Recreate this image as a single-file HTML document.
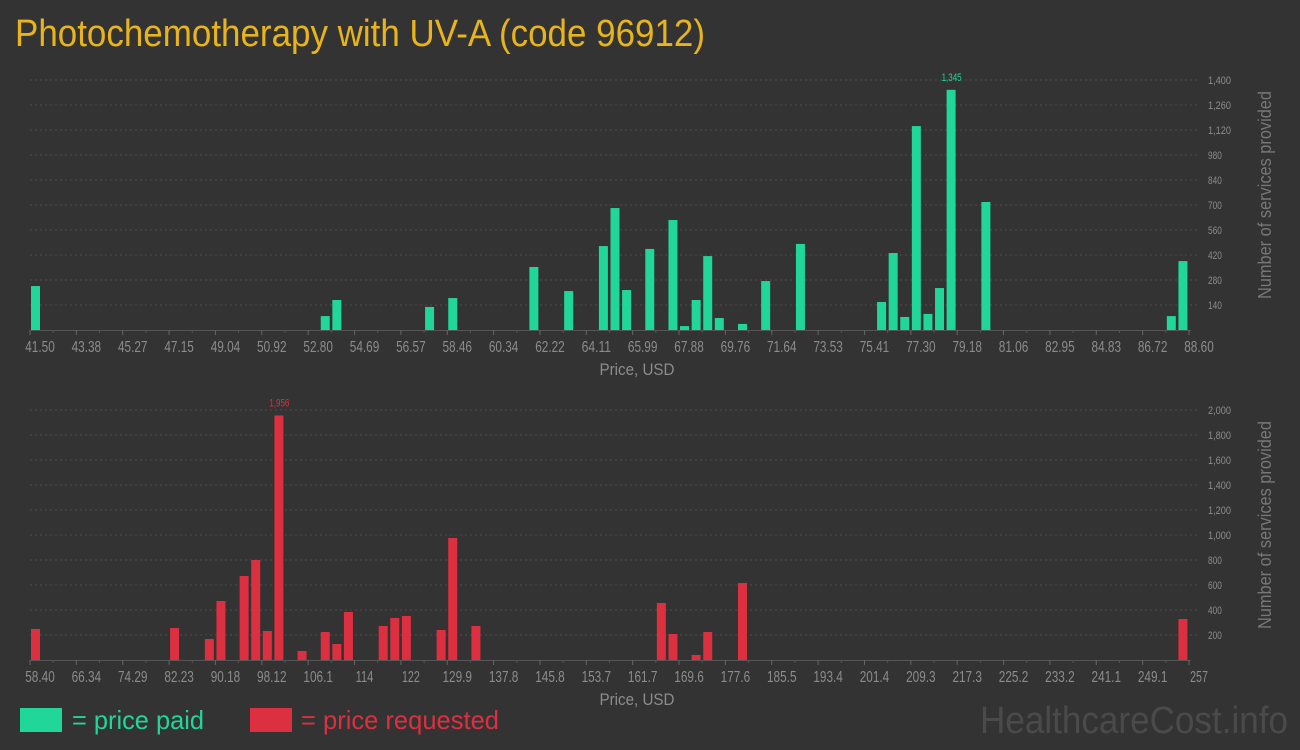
<!DOCTYPE html>
<html><head><meta charset="utf-8"><style>
html,body{margin:0;padding:0;background:#333333;}
body{width:1300px;height:750px;overflow:hidden;font-family:"Liberation Sans",sans-serif;}
</style></head><body>
<svg id="c" width="1300" height="750" xmlns="http://www.w3.org/2000/svg" style="display:block">
<rect width="1300" height="750" fill="#333333"/>
<text x="15" y="46" font-size="38" fill="#e8b41c" textLength="690" lengthAdjust="spacingAndGlyphs">Photochemotherapy with UV-A (code 96912)</text>
<g>
<rect x="20" y="708" width="42" height="24" fill="#20d698"/>
<text x="72" y="729" font-size="26" fill="#20d698" textLength="132" lengthAdjust="spacingAndGlyphs">= price paid</text>
<rect x="250" y="708" width="42" height="24" fill="#dc3040"/>
<text x="301" y="729" font-size="26" fill="#dc3040" textLength="198" lengthAdjust="spacingAndGlyphs">= price requested</text>
</g>
<text x="1288" y="733" font-size="38" fill="#4a4a4a" text-anchor="end" textLength="308" lengthAdjust="spacingAndGlyphs">HealthcareCost.info</text>
</svg>
<script>
// Top chart data (price paid)
const topTickLabels = ["41.50","43.38","45.27","47.15","49.04","50.92","52.80","54.69","56.57","58.46","60.34","62.22","64.11","65.99","67.88","69.76","71.64","73.53","75.41","77.30","79.18","81.06","82.95","84.83","86.72","88.60"];
const topBins = [0,25,26,34,36,43,46,49,50,51,53,55,56,57,58,59,61,63,66,73,74,75,76,77,78,79,82,98,99];
const topValues = [246,78,168,129,179,353,218,470,683,224,454,616,22,168,414,67,34,274,482,157,431,73,1142,90,235,1345,717,78,386];
const topYTicks = [140,280,420,560,700,840,980,1120,1260,1400];
const topYLabels = ["140","280","420","560","700","840","980","1,120","1,260","1,400"];
// Bottom chart data (price requested)
const botTickLabels = ["58.40","66.34","74.29","82.23","90.18","98.12","106.1","114","122","129.9","137.8","145.8","153.7","161.7","169.6","177.6","185.5","193.4","201.4","209.3","217.3","225.2","233.2","241.1","249.1","257"];
const botBins = [0,12,15,16,18,19,20,21,23,25,26,27,30,31,32,35,36,38,54,55,57,58,61,99];
const botValues = [248,256,168,472,672,800,232,1956,72,224,128,384,272,336,352,240,976,272,456,208,40,224,616,328];
const botYTicks = [200,400,600,800,1000,1200,1400,1600,1800,2000];
const botYLabels = ["200","400","600","800","1,000","1,200","1,400","1,600","1,800","2,000"];

const NS="http://www.w3.org/2000/svg";
const svg=document.getElementById('c');
function mk(tag,attrs,parent){const e=document.createElementNS(NS,tag);for(const k in attrs)e.setAttribute(k,attrs[k]);(parent||svg).appendChild(e);return e;}

function drawChart(o){
  const x0=30,x1=1189,base=o.base,top=o.top;
  const nT=o.ticks.length-1, tickStep=(x1-x0)/nT, binW=(x1-x0)/100;
  const xBin=b=>x0+b*binW;
  const yS=v=>base-(v/o.max)*(base-top);
  const g=mk('g',{});
  
  
  o.yTicks.forEach((v,i)=>{
    const l=mk('line',{x1:x0,x2:1200,y1:yS(v),y2:yS(v),stroke:'#4c4c4c','stroke-width':1,'stroke-dasharray':'2,3'},g);
    
    
    const t=mk('text',{x:1208,y:yS(v)+4,'font-size':11,fill:'#8c8c8c'},g);
    
    
    t.setAttribute('textLength',o.yLabels[i].length*4.6);
    t.setAttribute('lengthAdjust','spacingAndGlyphs');
    t.textContent=o.yLabels[i];
  });
  const ax=mk('line',{x1:x0,x2:x1+2,y1:base+0.5,y2:base+0.5,stroke:'#555','stroke-width':1},g);
  
  
  o.bins.forEach((b,i)=>{
    const r=mk('rect',{x:xBin(b)+1,y:yS(o.values[i]),width:9,height:base-yS(o.values[i]),fill:o.color},g);
    
    
    if(o.values[i]===Math.max(...o.values)){
      const t=mk('text',{x:xBin(b)+6,y:yS(o.values[i])-9,'font-size':11,fill:o.color,'text-anchor':'middle',textLength:20,lengthAdjust:'spacingAndGlyphs'},g);
      
      
      t.textContent=o.values[i].toLocaleString('en-US');
    }
  });
  for(let i=0;i<=nT;i++){
    const tx=x0+i*tickStep;
    const tk=mk('line',{x1:tx,x2:tx,y1:base,y2:base+5,stroke:'#666'},g);
    
    
    if(i<nT){
      const mt=mk('line',{x1:tx+tickStep/2,x2:tx+tickStep/2,y1:base,y2:base+3,stroke:'#555'},g);
      
      
    }
    const lab=o.ticks[i];
    const t=mk('text',{x:tx+10,y:base+22,'font-size':16,fill:'#8c8c8c','text-anchor':'middle',textLength:lab.length*5.9,lengthAdjust:'spacingAndGlyphs'},g);
    
    
    t.textContent=lab;
  }
  const xt=mk('text',{x:637,y:base+45,'font-size':17,fill:'#8c8c8c','text-anchor':'middle',textLength:75,lengthAdjust:'spacingAndGlyphs'},g);
  
  
  xt.textContent='Price, USD';
  const cy=(base+top)/2-10;
  const yt=mk('text',{x:1271,y:cy,'font-size':18,fill:'#777','text-anchor':'middle',transform:'rotate(-90 1271 '+cy+')',textLength:208,lengthAdjust:'spacingAndGlyphs'},g);
  
  
  yt.textContent='Number of services provided';
}
drawChart({name:'price-paid-chart',base:330,top:80,max:1400,ticks:topTickLabels,bins:topBins,values:topValues,yTicks:topYTicks,yLabels:topYLabels,color:'#20d698'});
drawChart({name:'price-requested-chart',base:660,top:410,max:2000,ticks:botTickLabels,bins:botBins,values:botValues,yTicks:botYTicks,yLabels:botYLabels,color:'#dc3040'});
</script>
</body></html>
